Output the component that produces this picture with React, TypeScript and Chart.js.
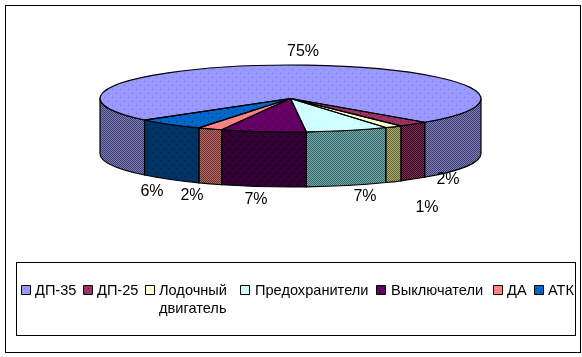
import React, { useEffect, useRef } from "react";
import { Chart, registerables } from "chart.js";

Chart.register(...registerables);

const categories = ["ДП-35", "ДП-25", "Лодочный двигатель", "Предохранители", "Выключатели", "ДА", "АТК"];
const legendLines = [["ДП-35"], ["ДП-25"], ["Лодочный", "двигатель"], ["Предохранители"], ["Выключатели"], ["ДА"], ["АТК"]];
// shares estimated from the drawn slices; printed percentages are the picture's labels
const shares = [73.6, 2.6, 1.5, 7.0, 7.2, 2.1, 5.9];
const percentLabels = ["75%", "2%", "1%", "7%", "7%", "2%", "6%"];

const topColors = ["#9999FF", "#993366", "#FFFFCC", "#CCFFFF", "#660066", "#FF8080", "#0066CC"];
const topDots = ["#7070DD", "#660033", "#FFFFFF", "#FFFFFF", "#330033", "#FFB0B0", "#003366"];
const wallLight = ["#8080B8", "#803355", "#AAAA77", "#77AAAA", "#330033", "#BB6666", "#003366"];
const wallDark = ["#3C3C70", "#330022", "#666633", "#336666", "#330033", "#663333", "#003366"];
const wallDots = ["", "", "", "", "#000000", "", "#001A33"];

const CX = 290.5;
const CY = 98.5;
const RX = 190.5;
const RY = 33.5;
const DEPTH = 55;
const SQUASH = RY / RX;
const FIRST_SLICE_DEG = 140;
const LAYOUT_R = 93.5;

const labelSpots: [number, number][] = [
  [303, 52], [448, 180], [427, 208], [365, 197], [256, 200], [192, 196], [152, 192],
];
const legendSwatchX = [22, 84, 146, 241, 377, 494, 535];
const legendTextX = [35, 97, 159, 255, 391, 507, 548];
const LEGEND_BASE = 295;
const FONT = '"Liberation Sans", Arial, sans-serif';

function dotted(base: string, dot: string) {
  const c = document.createElement("canvas");
  c.width = 8; c.height = 8;
  const g = c.getContext("2d")!;
  g.fillStyle = base; g.fillRect(0, 0, 8, 8);
  g.fillStyle = dot; g.fillRect(0, 0, 1, 1); g.fillRect(4, 4, 1, 1);
  return c;
}

function checker(a: string, b: string, dot: string) {
  const c = document.createElement("canvas");
  c.width = 8; c.height = 8;
  const g = c.getContext("2d")!;
  for (let y = 0; y < 8; y++) for (let x = 0; x < 8; x++) {
    g.fillStyle = (x + y) % 2 ? a : b;
    g.fillRect(x, y, 1, 1);
  }
  if (dot) { g.fillStyle = dot; g.fillRect(0, 0, 1, 1); g.fillRect(4, 4, 1, 1); }
  return c;
}

export default function App() {
  const ref = useRef<HTMLCanvasElement>(null);
  useEffect(() => {
    const canvas = ref.current!;
    const ctx = canvas.getContext("2d")!;
    const flat = topColors.map((c, i) => dotted(c, topDots[i]));
    const swatches = flat.map((c) => ctx.createPattern(c, "repeat")!);
    const tops = flat.map((c) => {
      const p = ctx.createPattern(c, "repeat")!;
      p.setTransform(new DOMMatrix().scale(1, 1 / SQUASH));
      return p;
    });
    const walls = wallLight.map((c, i) => ctx.createPattern(checker(c, wallDark[i], wallDots[i]), "repeat")!);

    const arcs = (chart: any) => chart.getDatasetMeta(0).data.map((a: any) =>
      a.getProps(["x", "y", "startAngle", "endAngle", "outerRadius"], true));

    const pie3d = {
      id: "pie3d",
      beforeDraw(chart: any) {
        const c = chart.ctx;
        c.save();
        c.fillStyle = "#fff";
        c.fillRect(0, 0, chart.width, chart.height);
        c.strokeStyle = "#000";
        c.lineWidth = 1;
        c.strokeRect(5.5, 5.5, 575, 347);
        c.strokeRect(16.5, 262.5, 559, 73);
        c.restore();
      },
      beforeDatasetsDraw(chart: any) {
        const c = chart.ctx;
        const list = arcs(chart);
        c.save();
        c.imageSmoothingEnabled = false;
        c.strokeStyle = "#000";
        c.lineWidth = 1.2;
        list.forEach((a: any, i: number) => {
          const ry = a.outerRadius * SQUASH;
          for (let k = -1; k <= 1; k++) {
            const s = Math.max(a.startAngle, k * 2 * Math.PI);
            const e = Math.min(a.endAngle, k * 2 * Math.PI + Math.PI);
            if (e <= s) continue;
            c.beginPath();
            c.ellipse(a.x, a.y, a.outerRadius, ry, 0, s, e);
            c.lineTo(a.x + a.outerRadius * Math.cos(e), a.y + ry * Math.sin(e) + DEPTH);
            c.ellipse(a.x, a.y + DEPTH, a.outerRadius, ry, 0, e, s, true);
            c.closePath();
            c.fillStyle = walls[i];
            c.fill();
            c.stroke();
          }
        });
        c.restore();
        c.save();
        c.imageSmoothingEnabled = false;
        const a0 = list[0];
        c.translate(a0.x, a0.y);
        c.scale(1, SQUASH);
        c.translate(-a0.x, -a0.y);
      },
      afterDatasetsDraw(chart: any) {
        const c = chart.ctx;
        c.restore();
        c.save();
        c.strokeStyle = "#000";
        c.lineWidth = 1.2;
        c.lineJoin = "round";
        arcs(chart).forEach((a: any) => {
          c.beginPath();
          c.moveTo(a.x, a.y);
          c.ellipse(a.x, a.y, a.outerRadius, a.outerRadius * SQUASH, 0, a.startAngle, a.endAngle);
          c.closePath();
          c.stroke();
        });
        c.fillStyle = "#000";
        c.textAlign = "center";
        c.textBaseline = "middle";
        c.font = `16px ${FONT}`;
        percentLabels.forEach((t, i) => c.fillText(t, labelSpots[i][0], labelSpots[i][1]));

        c.save();
        c.beginPath();
        c.rect(17, 263, 558, 72);
        c.clip();
        c.font = `14.6px ${FONT}`;
        c.textAlign = "left";
        c.textBaseline = "alphabetic";
        c.lineWidth = 1;
        legendLines.forEach((lines, i) => {
          c.fillStyle = swatches[i];
          c.fillRect(legendSwatchX[i], LEGEND_BASE - 9, 8, 8);
          c.strokeRect(legendSwatchX[i] - 0.5, LEGEND_BASE - 9.5, 9, 9);
          c.fillStyle = "#000";
          lines.forEach((l, j) => c.fillText(l, legendTextX[i], LEGEND_BASE + j * 18));
        });
        c.restore();
        c.restore();
      },
    };

    const chart = new Chart(canvas, {
      type: "pie",
      data: {
        labels: categories,
        datasets: [{
          data: shares,
          backgroundColor: tops as any,
          borderWidth: 0,
          clip: false as any,
        }],
      },
      options: {
        animation: false,
        responsive: false,
        radius: RX,
        rotation: FIRST_SLICE_DEG + 90,
        layout: { padding: { top: CY - LAYOUT_R, bottom: 357 - (CY + LAYOUT_R), left: 0, right: 582 - 2 * CX } },
        plugins: { legend: { display: false }, tooltip: { enabled: false } },
      } as any,
      plugins: [pie3d],
    });
    return () => chart.destroy();
  }, []);
  return (
    <div style={{ position: "fixed", left: 0, top: 0 }}>
      <canvas ref={ref} width={582} height={357} style={{ display: "block", width: 582, height: 357 }} />
    </div>
  );
}
